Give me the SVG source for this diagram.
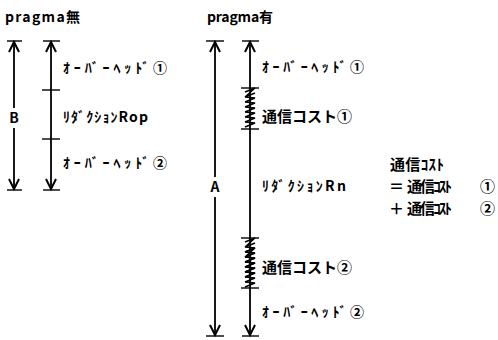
<svg xmlns="http://www.w3.org/2000/svg" width="498" height="340" viewBox="0 0 498 340">
<style>
text{font-family:"Noto Sans CJK JP","Noto Sans",sans-serif;font-weight:bold;font-size:14px;fill:#000}
.big{font-size:15px}
.ln{stroke:#000;stroke-width:1.8;fill:none}
.th{stroke:#000;stroke-width:1.4;fill:none}
.hd{stroke:#000;stroke-width:2;fill:none;stroke-linejoin:miter}
</style>
<rect width="498" height="340" fill="#fff"/>
<defs>
<path id="up" class="hd" d="M-5,11 L0,1 L5,11"/>
<path id="dn" class="hd" d="M-5,-11 L0,-1 L5,-11"/>
<path id="spr" class="th" d="M-5,2 L5,-2 L-5,7 L5,3 M-5,7 L5,8 L-5,12 M-5,12 L5,13 L-5,17 M-5,17 L5,18 L-5,22 M-5,22 L5,23 L-5,27 M-5,27 L5,28 L-5,32 M-5,32 L5,33 L-5,37"/>
</defs>
<text x="5" y="22" font-size="13" textLength="75" lengthAdjust="spacing">pragma無</text>
<text x="207" y="22" font-size="13" textLength="66" lengthAdjust="spacing">pragma有</text>
<g id="connectors">
<line class="th" x1="7" y1="41" x2="22" y2="41"/><line class="th" x1="7" y1="190" x2="22" y2="190"/>
<line class="ln" x1="14" y1="42" x2="14" y2="108"/><line class="ln" x1="14" y1="128" x2="14" y2="189"/>
<use href="#up" x="14" y="41"/><use href="#dn" x="14" y="190"/>
<line class="th" x1="43" y1="41" x2="60" y2="41"/><line class="th" x1="43" y1="190" x2="60" y2="190"/>
<line class="th" x1="42" y1="90" x2="60" y2="90"/><line class="th" x1="42" y1="139" x2="60" y2="139"/>
<line class="ln" x1="51" y1="42" x2="51" y2="189"/>
<use href="#up" x="51" y="41"/><use href="#dn" x="51" y="190"/>
<line class="th" x1="206" y1="41" x2="224" y2="41"/><line class="th" x1="206" y1="336" x2="224" y2="336"/>
<line class="ln" x1="215" y1="42" x2="215" y2="177"/><line class="ln" x1="215" y1="197" x2="215" y2="335"/>
<use href="#up" x="215" y="41"/><use href="#dn" x="215" y="336"/>
<line class="th" x1="242" y1="41" x2="259" y2="41"/><line class="th" x1="242" y1="336" x2="259" y2="336"/>
<line class="ln" x1="250" y1="42" x2="250" y2="335"/>
<use href="#up" x="250" y="41"/><use href="#dn" x="250" y="336"/>
<line class="th" x1="241" y1="88" x2="259" y2="88"/><line class="th" x1="241" y1="129" x2="259" y2="129"/>
<use href="#spr" x="250" y="90"/>
<line class="th" x1="241" y1="238" x2="259" y2="238"/><line class="th" x1="241" y1="288" x2="259" y2="288"/>
<use href="#spr" x="250" y="240"/><use href="#spr" x="250" y="250"/>
</g>
<g id="nodeB"><text x="14" y="123" text-anchor="middle">B</text></g>
<g id="nodeA"><text x="215" y="192" text-anchor="middle">A</text></g>
<g id="left-labels">
<text x="63" y="73" textLength="104" lengthAdjust="spacing">ｵｰﾊﾞｰﾍｯﾄﾞ①</text>
<text x="63" y="122" textLength="85" lengthAdjust="spacing">ﾘﾀﾞｸｼｮﾝRop</text>
<text x="63" y="168" textLength="104" lengthAdjust="spacing">ｵｰﾊﾞｰﾍｯﾄﾞ②</text>
</g>
<g id="right-labels">
<text x="262" y="72" textLength="102" lengthAdjust="spacing">ｵｰﾊﾞｰﾍｯﾄﾞ①</text>
<text class="big" x="262" y="122" textLength="90" lengthAdjust="spacing">通信コスト①</text>
<text x="262" y="191" textLength="84" lengthAdjust="spacing">ﾘﾀﾞｸｼｮﾝRn</text>
<text class="big" x="262" y="273" textLength="90" lengthAdjust="spacing">通信コスト②</text>
<text x="262" y="317" textLength="102" lengthAdjust="spacing">ｵｰﾊﾞｰﾍｯﾄﾞ②</text>
</g>
<g id="formula">
<text class="big" x="390" y="170" textLength="54" lengthAdjust="spacing">通信ｺｽﾄ</text>
<text class="big" x="389" y="192">＝</text>
<text class="big" x="407" y="192" textLength="45" lengthAdjust="spacing">通信ｺｽﾄ</text>
<text class="big" x="480" y="192">①</text>
<text class="big" x="389" y="214">＋</text>
<text class="big" x="407" y="214" textLength="45" lengthAdjust="spacing">通信ｺｽﾄ</text>
<text class="big" x="480" y="214">②</text>
</g>
</svg>
